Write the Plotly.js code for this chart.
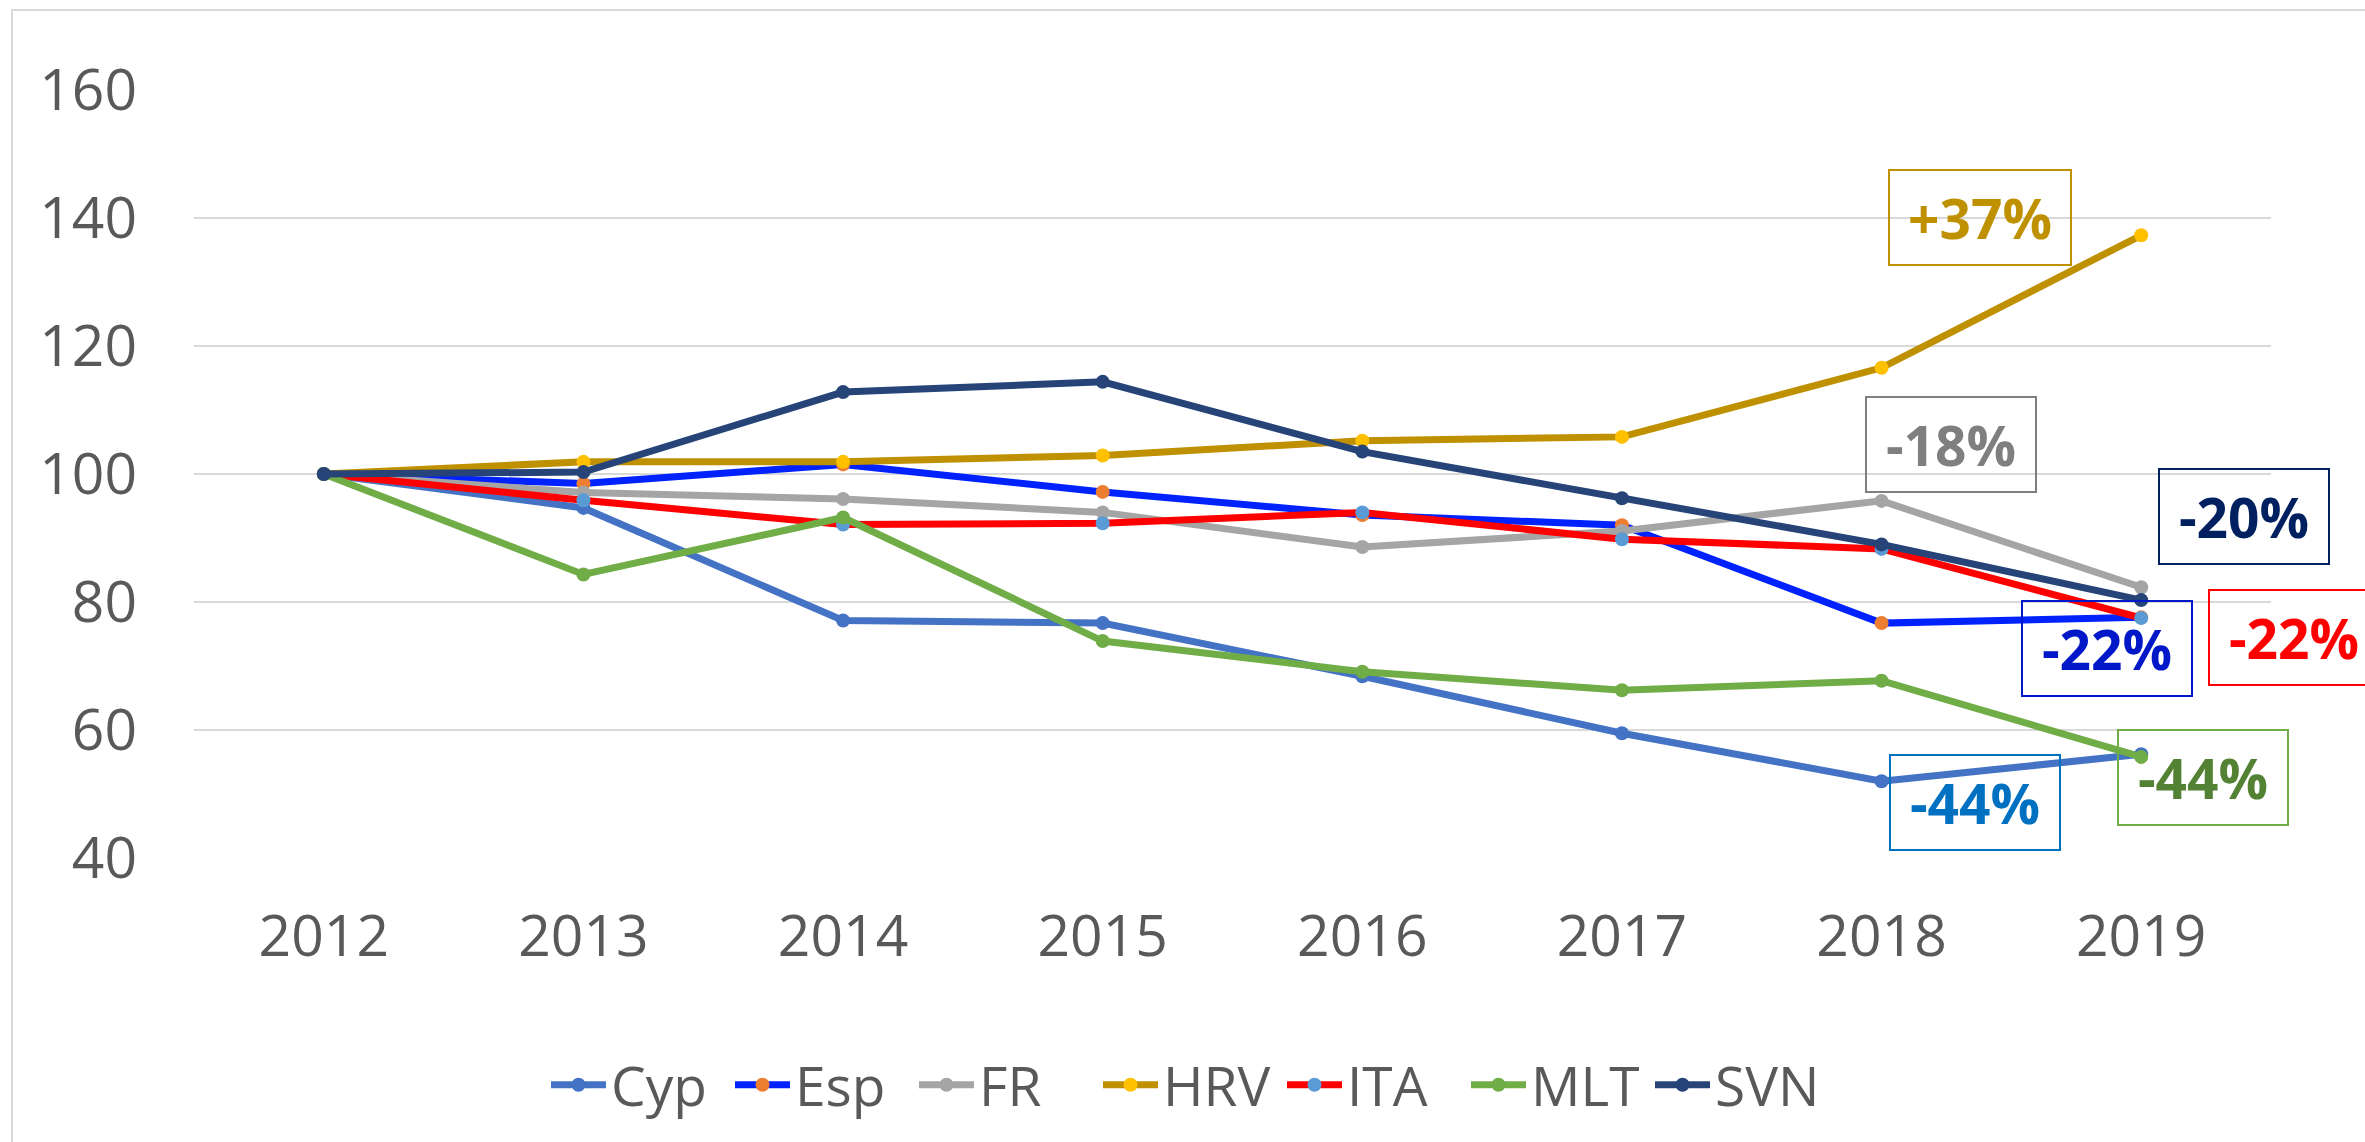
<!DOCTYPE html>
<html>
<head>
<meta charset="utf-8">
<script src="https://cdn.plot.ly/plotly-3.0.1.min.js"></script>
<style>html,body{margin:0;padding:0;background:#fff;}</style>
</head>
<body>
<div id="chart" style="width:2365px;height:1142px;"></div>
<script>
const years = ['2012','2013','2014','2015','2016','2017','2018','2019'];
const cyp = [100, 94.7, 77.1, 76.7, 68.4, 59.5, 52.0, 56.2];
const esp = [100, 98.5, 101.5, 97.2, 93.6, 92.0, 76.7, 77.6];
const fr  = [100, 97.1, 96.1, 94.0, 88.6, 91.1, 95.8, 82.3];
const hrv = [100, 101.9, 101.9, 102.9, 105.2, 105.8, 116.6, 137.3];
const ita = [100, 95.9, 92.1, 92.3, 94.0, 89.8, 88.3, 77.5];
const mlt = [100, 84.3, 93.2, 73.9, 69.1, 66.2, 67.7, 55.8];
const svn = [100, 100.3, 112.8, 114.4, 103.5, 96.2, 89.0, 80.3];

const seriesNames = ['Cyp','Esp','FR','HRV','ITA','MLT','SVN'];
const seriesValues = [cyp, esp, fr, hrv, ita, mlt, svn];
const lineColors   = ['#4472C4','#0022FF','#A5A5A5','#BF9000','#FF0000','#70AD47','#264478'];
const markerColors = ['#4472C4','#ED7D31','#A5A5A5','#FFC000','#5B9BD5','#70AD47','#264478'];

const labelTexts  = ['+37%','-18%','-20%','-22%','-22%','-44%','-44%'];
const labelColors = ['#BF9000','#7F7F7F','#002060','#0018C8','#FF0000','#548235','#0070C0'];
const labelBorders= ['#BF9000','#7F7F7F','#002060','#0018C8','#FF0000','#70AD47','#0070C0'];

const FONT = 'Open Sans, Liberation Sans, Arial, sans-serif';

// plot-area geometry (pixels)
const L = 194, T = 90, PW = 2077, PH = 768;
const px2x = p => (p - L) / PW;
const px2y = p => (T + PH - p) / PH;

// label box centres and sizes in pixels
const boxCx = [1980, 1951, 2244, 2107, 2294, 2203, 1975];
const boxCy = [218, 444, 516, 648, 637, 777, 802];
const boxW  = [180, 168, 168, 168, 168, 168, 168];

const traces = seriesNames.map((n, i) => ({
  type: 'scatter',
  mode: 'lines+markers',
  name: n,
  x: years,
  y: seriesValues[i],
  line: {color: lineColors[i], width: 7},
  marker: {color: markerColors[i], size: 14},
  cliponaxis: false
}));

const annotations = labelTexts.map((t, i) => ({
  xref: 'paper', yref: 'paper',
  x: px2x(boxCx[i]), y: px2y(boxCy[i]),
  xanchor: 'center', yanchor: 'middle',
  text: '<b>' + t + '</b>',
  showarrow: false,
  font: {family: FONT, size: 55, color: labelColors[i]},
  bordercolor: labelBorders[i],
  borderwidth: 2,
  borderpad: 0,
  width: boxW[i],
  height: 93,
  align: 'center',
  valign: 'middle'
}));

const layout = {
  width: 2365, height: 1142,
  margin: {l: L, r: 2365 - L - PW, t: T, b: 1142 - T - PH, pad: 0},
  paper_bgcolor: '#ffffff',
  plot_bgcolor: '#ffffff',
  showlegend: true,
  legend: {
    orientation: 'h',
    x: px2x(1190), xanchor: 'center',
    y: px2y(1085), yanchor: 'middle',
    font: {family: FONT, size: 55, color: '#595959'},
    itemwidth: 55,
    entrywidth: 114,
    entrywidthmode: 'pixels',
    bgcolor: 'rgba(0,0,0,0)'
  },
  xaxis: {
    type: 'category',
    range: [-0.5, 7.5],
    showgrid: false,
    zeroline: false,
    showline: false,
    ticks: '',
    tickfont: {family: FONT, size: 57, color: '#595959'},
    ticklabelstandoff: 40,
    fixedrange: true
  },
  yaxis: {
    range: [40, 160],
    dtick: 20,
    tick0: 40,
    showgrid: true,
    gridcolor: '#D9D9D9',
    gridwidth: 2,
    zeroline: false,
    showline: false,
    ticks: '',
    tickfont: {family: FONT, size: 57, color: '#595959'},
    ticklabelstandoff: 56,
    fixedrange: true
  },
  annotations: annotations,
  shapes: [{
    type: 'rect', xref: 'paper', yref: 'paper',
    x0: px2x(12), x1: px2x(2400),
    y0: px2y(1180), y1: px2y(10),
    line: {color: '#D9D9D9', width: 2},
    fillcolor: 'rgba(0,0,0,0)',
    layer: 'below'
  }]
};

Plotly.newPlot('chart', traces, layout, {displayModeBar: false, staticPlot: true});
</script>
</body>
</html>
